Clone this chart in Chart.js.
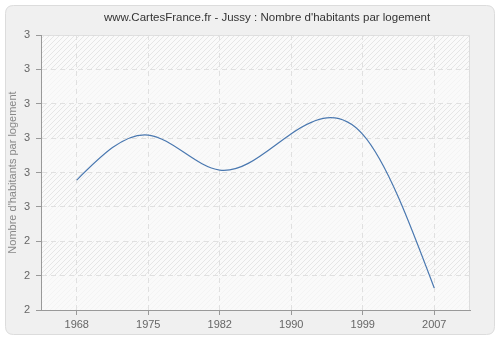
<!DOCTYPE html>
<html>
<head>
<meta charset="utf-8">
<script src="https://cdn.jsdelivr.net/npm/chart.js@4/dist/chart.umd.min.js"></script>
<style>
  html, body { margin: 0; padding: 0; background: #fff; }
  #wrap { width: 500px; height: 340px; }
</style>
</head>
<body>
<div id="wrap"><canvas id="chart" width="500" height="340"></canvas></div>
<script>
// data
const chartTitle = "www.CartesFrance.fr - Jussy : Nombre d'habitants par logement";
const years = ["1968", "1975", "1982", "1990", "1999", "2007"];
const habitantsParLogement = [2.578, 2.709, 2.607, 2.713, 2.711, 2.264];
const yTicks = [2.2, 2.3, 2.4, 2.5, 2.6, 2.7, 2.8, 2.9, 3.0];

// hatch pattern for the plot area
function makeHatch() {
  const c = document.createElement("canvas");
  c.width = 5; c.height = 5;
  const g = c.getContext("2d");
  g.fillStyle = "#fafafa";
  g.fillRect(0, 0, 5, 5);
  g.strokeStyle = "#e6e6e6";
  g.lineWidth = 1;
  g.beginPath();
  g.moveTo(0, 5); g.lineTo(5, 0);
  g.moveTo(-1, 1); g.lineTo(1, -1);
  g.moveTo(4, 6); g.lineTo(6, 4);
  g.stroke();
  return g.createPattern(c, "repeat");
}

function roundRect(ctx, x, y, w, h, r) {
  ctx.beginPath();
  ctx.moveTo(x + r, y);
  ctx.lineTo(x + w - r, y);
  ctx.quadraticCurveTo(x + w, y, x + w, y + r);
  ctx.lineTo(x + w, y + h - r);
  ctx.quadraticCurveTo(x + w, y + h, x + w - r, y + h);
  ctx.lineTo(x + r, y + h);
  ctx.quadraticCurveTo(x, y + h, x, y + h - r);
  ctx.lineTo(x, y + r);
  ctx.quadraticCurveTo(x, y, x + r, y);
  ctx.closePath();
}

const background = {
  id: "background",
  beforeDraw(chart) {
    const ctx = chart.ctx;
    const a = chart.chartArea;
    ctx.save();
    ctx.fillStyle = "#ffffff";
    ctx.fillRect(0, 0, chart.width, chart.height);
    roundRect(ctx, 5.5, 5.5, 489, 329, 8);
    ctx.fillStyle = "#f0f0f0";
    ctx.fill();
    ctx.strokeStyle = "#dcdcdc";
    ctx.lineWidth = 1;
    ctx.stroke();

    ctx.fillStyle = makeHatch();
    ctx.fillRect(a.left, a.top, a.right - a.left, a.bottom - a.top);
    // lighter alternate bands
    const y = chart.scales.y;
    ctx.fillStyle = "rgba(250,250,250,0.7)";
    for (let i = 0; i < yTicks.length - 1; i += 2) {
      const y0 = y.getPixelForValue(yTicks[i]);
      const y1 = y.getPixelForValue(yTicks[i + 1]);
      ctx.fillRect(a.left, y1, a.right - a.left, y0 - y1);
    }
    ctx.strokeStyle = "#dddddd";
    ctx.beginPath();
    ctx.moveTo(a.left, a.top + 0.5);
    ctx.lineTo(a.right - 0.5, a.top + 0.5);
    ctx.lineTo(a.right - 0.5, a.bottom);
    ctx.stroke();

    // title, centred a bit right of the canvas middle like the original
    ctx.fillStyle = "#333";
    ctx.font = "11.5px 'Liberation Sans'";
    ctx.textAlign = "center";
    ctx.textBaseline = "middle";
    ctx.fillText(chartTitle, 267, 18);
    ctx.restore();
  }
};

// replace chart.js bezier control points with a natural cubic spline
const naturalSpline = {
  id: "naturalSpline",
  beforeDatasetDraw(chart, args) {
    const meta = args.meta;
    meta.dataset.updateControlPoints(chart.chartArea, meta.iScale.axis);
    const pts = meta.data;
    const n = pts.length;
    const x = pts.map(p => p.x);
    const y = pts.map(p => p.y);
    const h = [];
    for (let i = 0; i < n - 1; i++) h.push(x[i + 1] - x[i]);

    // tridiagonal system for second derivatives, M[0] = M[n-1] = 0
    const M = new Array(n).fill(0);
    const cp = new Array(n).fill(0);
    const dp = new Array(n).fill(0);
    for (let i = 1; i < n - 1; i++) {
      const a = h[i - 1], b = 2 * (h[i - 1] + h[i]), c = h[i];
      const d = 6 * ((y[i + 1] - y[i]) / h[i] - (y[i] - y[i - 1]) / h[i - 1]);
      const m = b - a * cp[i - 1];
      cp[i] = c / m;
      dp[i] = (d - a * dp[i - 1]) / m;
    }
    for (let i = n - 2; i >= 1; i--) M[i] = dp[i] - cp[i] * M[i + 1];

    for (let i = 0; i < n - 1; i++) {
      const s = (y[i + 1] - y[i]) / h[i];
      const d0 = s - h[i] * (2 * M[i] + M[i + 1]) / 6;
      const d1 = s + h[i] * (M[i] + 2 * M[i + 1]) / 6;
      pts[i].cp2x = x[i] + h[i] / 3;
      pts[i].cp2y = y[i] + d0 * h[i] / 3;
      pts[i + 1].cp1x = x[i + 1] - h[i] / 3;
      pts[i + 1].cp1y = y[i + 1] - d1 * h[i] / 3;
    }
  }
};

const ctx = document.getElementById("chart").getContext("2d");
new Chart(ctx, {
  type: "line",
  data: {
    labels: years,
    datasets: [{
      data: habitantsParLogement,
      borderColor: "#4a78b0",
      borderWidth: 1.2,
      pointRadius: 0,
      fill: false,
      tension: 0.4
    }]
  },
  options: {
    responsive: false,
    animation: false,
    devicePixelRatio: 1,
    layout: { padding: { top: 35, right: 30, bottom: 0, left: 0 } },
    plugins: {
      legend: { display: false },
      tooltip: { enabled: false },
      title: { display: false }
    },
    scales: {
      x: {
        offset: true,
        afterFit(scale) { scale.height = 30; },
        border: { color: "#999", width: 1, dash: [5, 4] },
        grid: {
          color: "#e0e0e0",
          tickColor: "#999",
          tickBorderDash: [],
          tickLength: 5,
          offset: false
        },
        ticks: {
          color: "#666",
          font: { family: "Liberation Sans", size: 11 },
          padding: 3,
          maxRotation: 0
        }
      },
      y: {
        min: 2.2,
        max: 3.0,
        afterBuildTicks(scale) { scale.ticks = yTicks.map(v => ({ value: v })); },
        afterFit(scale) { scale.width = 41; },
        border: { color: "#999", width: 1, dash: [5, 4] },
        grid: {
          color: "#e0e0e0",
          tickColor: "#999",
          tickBorderDash: [],
          tickLength: 5
        },
        ticks: {
          color: "#666",
          font: { family: "Liberation Sans", size: 11 },
          padding: 6,
          callback: v => Math.round(v)
        },
        title: {
          display: true,
          text: "Nombre d'habitants par logement",
          color: "#888",
          font: { family: "Liberation Sans", size: 11 },
          padding: { top: 6, bottom: 0 }
        }
      }
    }
  },
  plugins: [background, naturalSpline]
});
</script>
</body>
</html>
